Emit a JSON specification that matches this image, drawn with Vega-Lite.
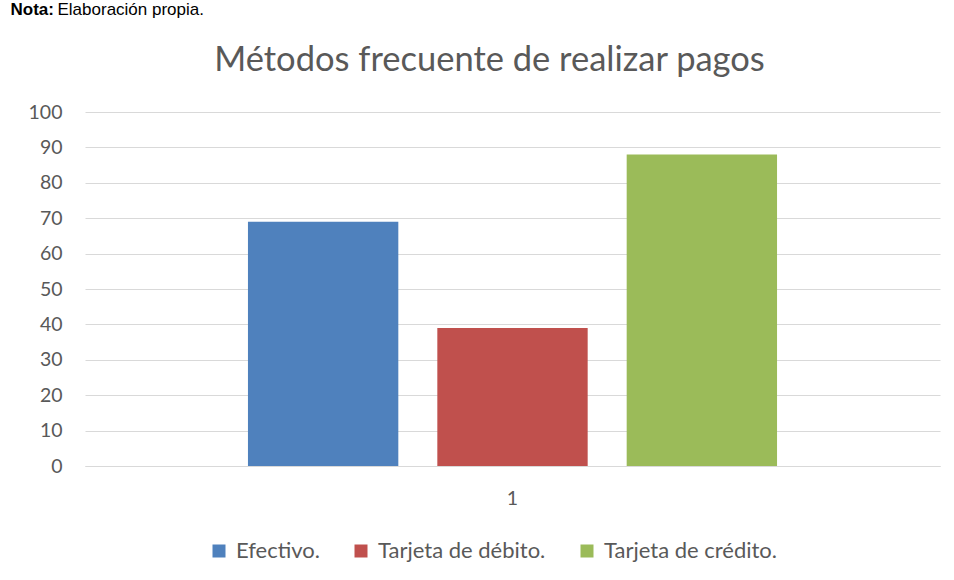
{
  "$schema": "https://vega.github.io/schema/vega-lite/v6.json",
  "width": 855,
  "height": 354,
  "autosize": {"type": "none"},
  "padding": {"left": 85, "top": 112, "right": 14, "bottom": 114},
  "background": "white",
  "title": {
    "text": "Métodos frecuente de realizar pagos",
    "anchor": "middle",
    "frame": "group",
    "dx": -23,
    "offset": -78,
    "font": "Lato",
    "fontSize": 34.5,
    "fontWeight": "normal",
    "color": "#595959",
    "limit": 900
  },
  "data": {
    "values": [
      {"categoria": "1", "serie": "Efectivo.", "valor": 69},
      {"categoria": "1", "serie": "Tarjeta de débito.", "valor": 39},
      {"categoria": "1", "serie": "Tarjeta de crédito.", "valor": 88}
    ]
  },
  "mark": {"type": "bar"},
  "encoding": {
    "x": {
      "field": "categoria",
      "type": "nominal",
      "scale": {"paddingInner": 0, "paddingOuter": 0.308},
      "axis": {
        "title": "Elaboración propia.",
        "titleX": -28,
        "titleY": -452,
        "titleAlign": "left",
        "titleAnchor": null,
        "titleBaseline": "alphabetic",
        "titleFont": "Liberation Sans",
        "titleFontSize": 17,
        "titleFontWeight": "normal",
        "titleColor": "#000000",
        "labelAngle": 0,
        "labelFont": "Lato",
        "labelFontSize": 19.5,
        "labelColor": "#595959",
        "labelPadding": 23,
        "ticks": false,
        "domainColor": "#d9d9d9",
        "domainWidth": 1
      }
    },
    "xOffset": {
      "field": "serie",
      "type": "nominal",
      "sort": ["Efectivo.", "Tarjeta de débito.", "Tarjeta de crédito."],
      "scale": {"paddingInner": 0.206, "paddingOuter": 0}
    },
    "y": {
      "field": "valor",
      "type": "quantitative",
      "scale": {"domain": [0, 100]},
      "axis": {
        "values": [0, 10, 20, 30, 40, 50, 60, 70, 80, 90, 100],
        "title": "Nota:",
        "titleAngle": 0,
        "titleX": -75,
        "titleY": -98,
        "titleAlign": "left",
        "titleAnchor": null,
        "titleBaseline": "alphabetic",
        "titleFont": "Liberation Sans",
        "titleFontSize": 17,
        "titleFontWeight": "bold",
        "titleColor": "#000000",
        "labelFont": "Lato",
        "labelFontSize": 19.5,
        "labelColor": "#595959",
        "labelPadding": 23,
        "ticks": false,
        "domain": false,
        "gridColor": "#d9d9d9",
        "gridWidth": 1
      }
    },
    "color": {
      "field": "serie",
      "type": "nominal",
      "sort": ["Efectivo.", "Tarjeta de débito.", "Tarjeta de crédito."],
      "scale": {
        "domain": ["Efectivo.", "Tarjeta de débito.", "Tarjeta de crédito."],
        "range": ["#4f81bd", "#c0504d", "#9bbb59"]
      },
      "legend": {
        "orient": "none",
        "legendX": 123,
        "legendY": 428,
        "direction": "horizontal",
        "title": null,
        "symbolType": "square",
        "symbolSize": 169,
        "symbolStrokeWidth": 0,
        "labelFont": "Lato",
        "labelFontSize": 22,
        "labelLimit": 400,
        "labelColor": "#595959",
        "labelOffset": 6,
        "columnPadding": 30
      }
    }
  },
  "config": {
    "view": {"stroke": null}
  }
}
